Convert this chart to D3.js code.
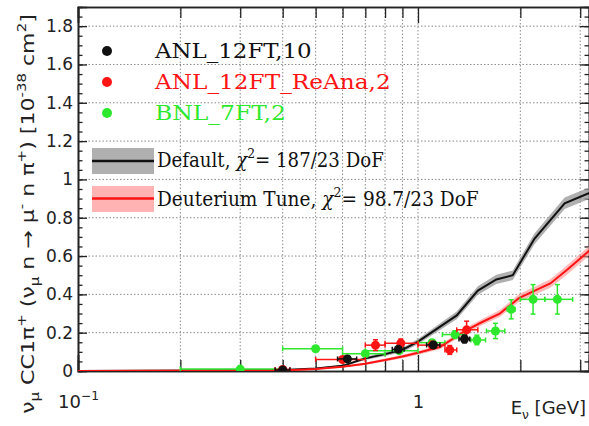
<!DOCTYPE html>
<html>
<head>
<meta charset="utf-8">
<script src="https://cdn.jsdelivr.net/npm/d3@7/dist/d3.min.js"></script>
<style>
  body { margin: 0; background: #fff; }
  svg { display: block; }
</style>
</head>
<body>
<div id="chart"></div>
<script>
// ANL_12FT,10 (black points)
const anlEnergy = [0.4, 0.62, 0.875, 1.11, 1.37];
const anlXsec   = [0.005, 0.063, 0.113, 0.136, 0.167];
const anlELow   = [0.38, 0.58, 0.84, 1.06, 1.32];
const anlEHigh  = [0.42, 0.66, 0.91, 1.16, 1.42];
const anlErr    = [0.003, 0.008, 0.012, 0.015, 0.02];

// ANL_12FT_ReAna,2 (red points)
const reanaEnergy = [0.4, 0.6, 0.75, 0.89, 1.1, 1.24, 1.39];
const reanaXsec   = [0.008, 0.06, 0.135, 0.145, 0.135, 0.11, 0.215];
const reanaELow   = [0.38, 0.5, 0.7, 0.8, 1.0, 1.2, 1.3];
const reanaEHigh  = [0.42, 0.7, 0.8, 1.0, 1.2, 1.3, 1.5];
const reanaErr    = [0.004, 0.01, 0.028, 0.022, 0.02, 0.023, 0.045];

// BNL_7FT,2 (green points)
const bnlEnergy = [0.3, 0.5, 0.7, 0.88, 1.1, 1.285, 1.49, 1.69, 1.88, 2.18, 2.57];
const bnlXsec   = [0.01, 0.116, 0.09, 0.106, 0.148, 0.19, 0.162, 0.209, 0.322, 0.374, 0.374];
const bnlELow   = [0.2, 0.4, 0.6, 0.7, 1.0, 1.18, 1.43, 1.59, 1.83, 2.0, 2.36];
const bnlEHigh  = [0.4, 0.6, 0.8, 1.0, 1.2, 1.37, 1.58, 1.8, 1.93, 2.36, 2.85];
const bnlErr    = [0.004, 0.01, 0.01, 0.012, 0.015, 0.02, 0.025, 0.04, 0.05, 0.077, 0.077];

// Default prediction (black line, grey band)
const defaultEnergy = [0.1, 0.4, 0.5, 0.6, 0.7, 0.8, 0.9, 1.0, 1.3, 1.5, 1.7, 1.9, 2.2, 2.7, 3.2];
const defaultXsec   = [0, 0.005, 0.013, 0.027, 0.066, 0.088, 0.11, 0.153, 0.29, 0.42, 0.478, 0.5, 0.69, 0.875, 0.93];
const defaultBand   = [0, 0.002, 0.003, 0.005, 0.008, 0.01, 0.012, 0.014, 0.02, 0.022, 0.024, 0.025, 0.028, 0.03, 0.03];

// Deuterium tune (red line, pink band)
const tuneEnergy = [0.1, 0.4, 0.5, 0.6, 0.7, 0.8, 0.9, 1.0, 1.16, 1.39, 1.55, 1.74, 1.98, 2.45, 2.74, 3.2];
const tuneXsec   = [0, 0.003, 0.01, 0.022, 0.038, 0.057, 0.076, 0.095, 0.125, 0.214, 0.257, 0.3, 0.38, 0.457, 0.527, 0.63];
const tuneBand   = [0, 0.002, 0.003, 0.004, 0.006, 0.008, 0.009, 0.01, 0.012, 0.015, 0.016, 0.018, 0.02, 0.022, 0.024, 0.025];

// axis ticks
const yMajorTicks = [0, 0.2, 0.4, 0.6, 0.8, 1, 1.2, 1.4, 1.6, 1.8];
const yMinorTicks = d3.range(0, 1.9, 0.05);
const xMajorTicks = [0.1, 1];
const xMinorTicks = [0.2, 0.3, 0.4, 0.5, 0.6, 0.7, 0.8, 0.9, 2, 3];
const xTickLabels = [[["10", ""], ["\u22121", "sup"]], [["1", ""]]];

const legendNames = ["ANL_12FT,10", "ANL_12FT_ReAna,2", "BNL_7FT,2"];

const width = 589, height = 426;
const margin = {left: 78, right: 0, top: 7, bottom: 55};
const BLACK = "#111", RED = "#ff1414", GREEN = "#2ee82e";

const svg = d3.select("#chart").append("svg")
  .attr("width", width).attr("height", height);

const x = d3.scaleLog().domain([0.1, 3.184]).range([margin.left, width - margin.right]);
const y = d3.scaleLinear().domain([0, 1.9]).range([height - margin.bottom, margin.top]);

// grid
const grid = svg.append("g").attr("stroke", "#8a8a8a").attr("stroke-dasharray", "1.5,2").attr("stroke-width", 1);
grid.selectAll(".gy").data(yMajorTicks.filter(d => d > 0)).join("line")
  .attr("x1", x.range()[0]).attr("x2", x.range()[1])
  .attr("y1", d => y(d)).attr("y2", d => y(d));
grid.selectAll(".gx").data(xMinorTicks.concat([1])).join("line")
  .attr("x1", d => x(d)).attr("x2", d => x(d))
  .attr("y1", y.range()[0]).attr("y2", y.range()[1]);

// helper for sub/superscripts
function rich(textSel, parts, size) {
  let cur = 0;
  parts.forEach(([s, m]) => {
    const shift = m === "sup" ? -0.45 * size : m === "sub" ? 0.25 * size : 0;
    textSel.append("tspan")
      .attr("dy", shift - cur)
      .attr("font-size", (m === "sup" || m === "sub") ? size * 0.68 : size)
      .attr("font-style", m === "it" ? "italic" : null)
      .text(s);
    cur = shift;
  });
}

// axes
const fs = 17;
svg.append("g").attr("transform", `translate(${margin.left},0)`)
  .call(d3.axisLeft(y).tickValues(yMajorTicks).tickSize(-9).tickPadding(5).tickFormat(d3.format("~g")));
svg.append("g").attr("transform", `translate(${margin.left},0)`)
  .call(d3.axisLeft(y).tickValues(yMinorTicks).tickSize(-4.5).tickFormat(""));
svg.append("g").attr("transform", `translate(${x.range()[1]},0)`)
  .call(d3.axisRight(y).tickValues(yMajorTicks).tickSize(-9).tickFormat(""));
svg.append("g").attr("transform", `translate(${x.range()[1]},0)`)
  .call(d3.axisRight(y).tickValues(yMinorTicks).tickSize(-4.5).tickFormat(""));

const xAxis = svg.append("g").attr("transform", `translate(0,${y(0)})`)
  .call(d3.axisBottom(x).tickValues(xMajorTicks).tickSize(-16).tickPadding(25).tickFormat(""));
svg.append("g").attr("transform", `translate(0,${y(0)})`)
  .call(d3.axisBottom(x).tickValues(xMinorTicks).tickSize(-11).tickFormat(""));
svg.append("g").attr("transform", `translate(0,${y.range()[1]})`)
  .call(d3.axisTop(x).tickValues(xMajorTicks).tickSize(-16).tickFormat(""));
svg.append("g").attr("transform", `translate(0,${y.range()[1]})`)
  .call(d3.axisTop(x).tickValues(xMinorTicks).tickSize(-11).tickFormat(""));

svg.selectAll(".domain").attr("stroke", "#222").attr("stroke-width", 1.6);
svg.selectAll(".tick line").attr("stroke", "#222").attr("stroke-width", 1.3);
svg.selectAll(".tick text").attr("font-family", "DejaVu Sans").attr("font-size", fs).attr("fill", "#222");

// x tick labels with superscript
xAxis.selectAll(".tick text").each(function(d, i) {
  const t = d3.select(this).attr("dy", null).attr("y", 37);
  t.text(null);
  rich(t, xTickLabels[i], 18);
});

// axis titles
svg.append("text")
  .attr("x", 586).attr("y", 414)
  .attr("text-anchor", "end")
  .attr("font-family", "DejaVu Sans").attr("font-size", 18).attr("fill", "#222")
  .call(t => rich(t, [["E", ""], ["\u03BD", "sub"], [" [GeV]", ""]], 18));

const yTitle = svg.append("text")
  .attr("text-anchor", "middle")
  .attr("font-family", "DejaVu Sans").attr("font-size", 18).attr("fill", "#222");
rich(yTitle, [
  ["\u03BD", ""], ["\u03BC", "sub"], [" CC1\u03C0", ""], ["+", "sup"],
  [" (\u03BD", ""], ["\u03BC", "sub"], [" n \u2192 \u03BC", ""], ["-", "sup"],
  [" n \u03C0", ""], ["+", "sup"], [") [10", ""], ["-38", "sup"], [" cm", ""], ["2", "sup"], ["]", ""]
], 18);
{
  const w = yTitle.node().getBBox().width;
  yTitle.attr("transform", `translate(34,214) rotate(-90) scale(${400 / w},1)`);
}

// plot area clip
svg.append("clipPath").attr("id", "clip").append("rect")
  .attr("x", x.range()[0]).attr("y", y.range()[1])
  .attr("width", x.range()[1] - x.range()[0]).attr("height", y.range()[0] - y.range()[1]);
const plot = svg.append("g").attr("clip-path", "url(#clip)");

// bands and curves
function drawPrediction(energy, xsec, band, fill, stroke) {
  const pts = energy.map((e, i) => ({e, v: xsec[i], b: band[i]}));
  plot.append("path").datum(pts)
    .attr("fill", fill)
    .attr("d", d3.area().x(d => x(d.e)).y0(d => y(d.v - d.b)).y1(d => y(d.v + d.b)));
  plot.append("path").datum(pts)
    .attr("fill", "none").attr("stroke", stroke).attr("stroke-width", 2)
    .attr("d", d3.line().x(d => x(d.e)).y(d => y(d.v)));
}
drawPrediction(defaultEnergy, defaultXsec, defaultBand, "rgba(150,150,150,0.75)", BLACK);
drawPrediction(tuneEnergy, tuneXsec, tuneBand, "rgba(255,140,140,0.6)", RED);

// data points
function drawPoints(energy, xsec, eLow, eHigh, err, color) {
  const pts = energy.map((e, i) => ({e, v: xsec[i], lo: eLow[i], hi: eHigh[i], err: err[i]}));
  const g = plot.append("g").attr("stroke", color).attr("stroke-width", 1.5);
  const cap = 2.5;
  pts.forEach(d => {
    g.append("line").attr("x1", x(d.lo)).attr("x2", x(d.hi)).attr("y1", y(d.v)).attr("y2", y(d.v));
    g.append("line").attr("x1", x(d.e)).attr("x2", x(d.e)).attr("y1", y(d.v - d.err)).attr("y2", y(d.v + d.err));
    g.append("line").attr("x1", x(d.e) - cap).attr("x2", x(d.e) + cap).attr("y1", y(d.v - d.err)).attr("y2", y(d.v - d.err));
    g.append("line").attr("x1", x(d.e) - cap).attr("x2", x(d.e) + cap).attr("y1", y(d.v + d.err)).attr("y2", y(d.v + d.err));
    g.append("line").attr("x1", x(d.lo)).attr("x2", x(d.lo)).attr("y1", y(d.v) - cap).attr("y2", y(d.v) + cap);
    g.append("line").attr("x1", x(d.hi)).attr("x2", x(d.hi)).attr("y1", y(d.v) - cap).attr("y2", y(d.v) + cap);
  });
  plot.append("g").selectAll("circle").data(pts).join("circle")
    .attr("cx", d => x(d.e)).attr("cy", d => y(d.v)).attr("r", 4.5).attr("fill", color);
}
drawPoints(bnlEnergy, bnlXsec, bnlELow, bnlEHigh, bnlErr, GREEN);
drawPoints(reanaEnergy, reanaXsec, reanaELow, reanaEHigh, reanaErr, RED);
drawPoints(anlEnergy, anlXsec, anlELow, anlEHigh, anlErr, BLACK);

// legend
const legend = svg.append("g").attr("font-family", "DejaVu Serif");
function fitText(sel, x0, y0, w) {
  const bw = sel.node().getBBox().width;
  sel.attr("transform", `translate(${x0},${y0}) scale(${w / bw},1)`);
}
const legColors = [BLACK, RED, GREEN];
const legY = [51, 82, 113];
const legW = [158, 237, 131];
legendNames.forEach((name, i) => {
  legend.append("circle").attr("cx", 107).attr("cy", legY[i]).attr("r", 5).attr("fill", legColors[i]);
  const t = legend.append("text").attr("font-size", 20).attr("fill", legColors[i]).text(name);
  fitText(t, 155, legY[i] + 6.5, legW[i]);
});

legend.append("rect").attr("x", 92).attr("y", 148).attr("width", 62).attr("height", 26).attr("fill", "#b0b0b0");
legend.append("line").attr("x1", 92).attr("x2", 154).attr("y1", 161).attr("y2", 161).attr("stroke", BLACK).attr("stroke-width", 2.5);
const t1 = legend.append("text").attr("font-size", 20).attr("fill", "#111");
rich(t1, [["Default, ", ""], ["\u03C7", "it"], ["2", "sup"], ["= 187/23 DoF", ""]], 20);
fitText(t1, 157, 167, 227);

legend.append("rect").attr("x", 92).attr("y", 186).attr("width", 62).attr("height", 26).attr("fill", "#ffb3b3");
legend.append("line").attr("x1", 92).attr("x2", 154).attr("y1", 198.5).attr("y2", 198.5).attr("stroke", RED).attr("stroke-width", 2.5);
const t2 = legend.append("text").attr("font-size", 20).attr("fill", "#111");
rich(t2, [["Deuterium Tune, ", ""], ["\u03C7", "it"], ["2", "sup"], ["= 98.7/23 DoF", ""]], 20);
fitText(t2, 157, 206, 322);
</script>
</body>
</html>
